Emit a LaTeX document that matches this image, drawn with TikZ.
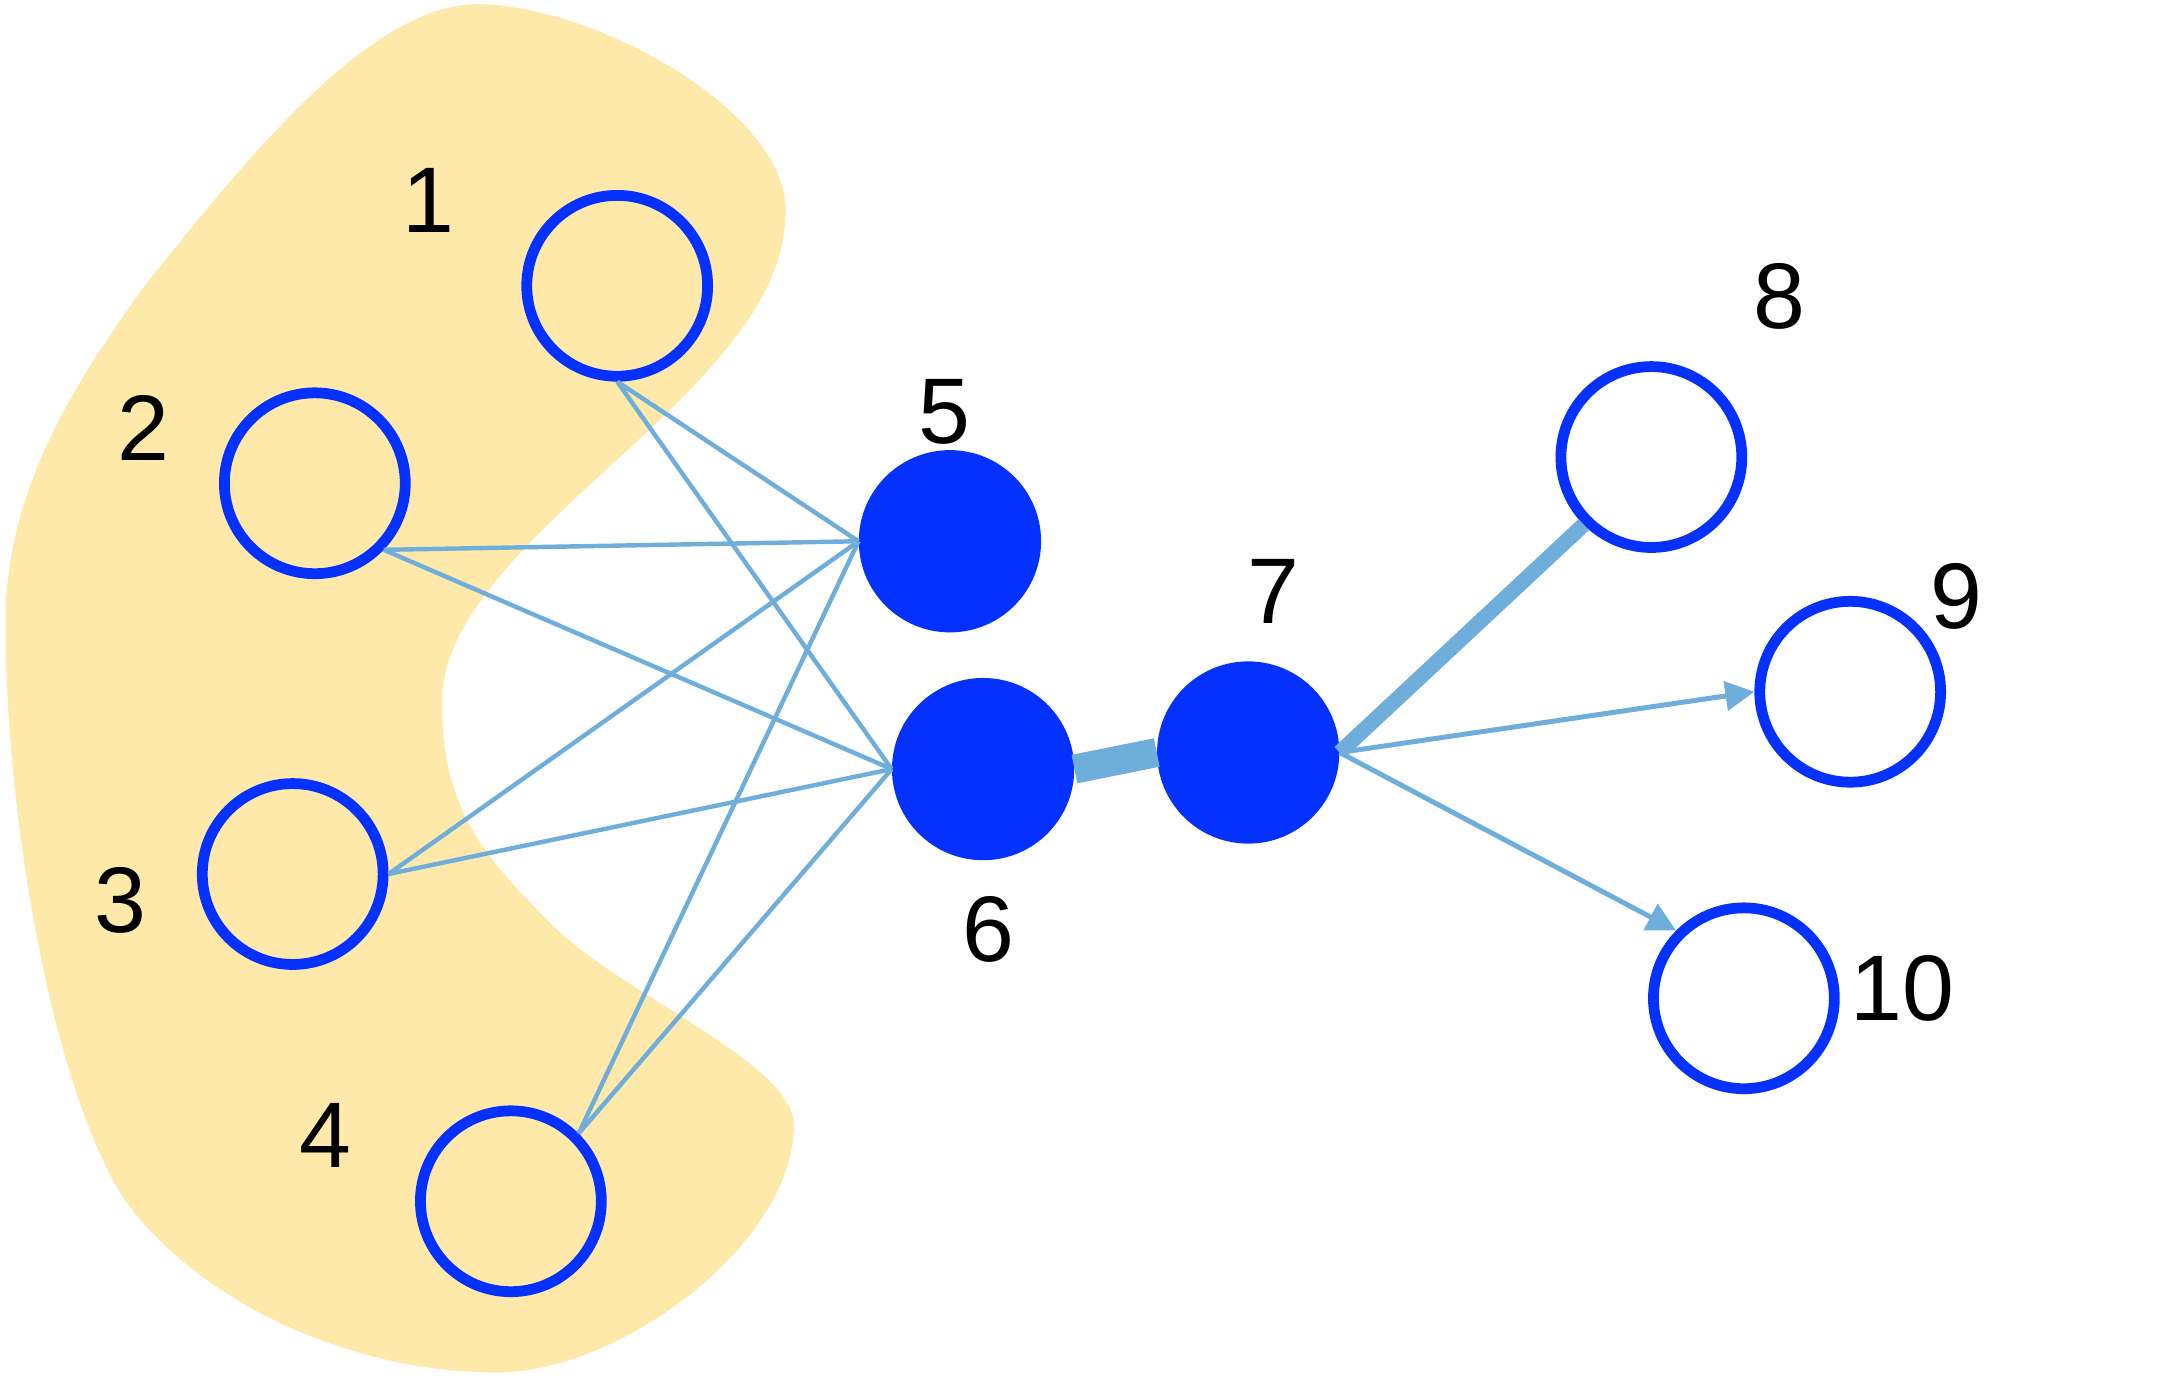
\documentclass[tikz,border=0pt]{standalone}
\usepackage{fontspec}
\setmainfont{Liberation Sans}
\usetikzlibrary{arrows.meta}
\definecolor{nodeblue}{HTML}{0531FF}
\definecolor{edgeblue}{HTML}{6FAEDB}
\definecolor{blobyellow}{HTML}{FEE9AA}
\begin{document}
\begin{tikzpicture}[x=1pt,y=-1pt,
  opennode/.style={circle,draw=nodeblue,line width=7.8pt,minimum size=131pt,inner sep=0pt},
  fullnode/.style={circle,fill=nodeblue,minimum size=132pt,inner sep=0pt},
  lbl/.style={font=\fontsize{67.5}{67.5}\selectfont,inner sep=0pt},
  thinedge/.style={draw=edgeblue,line width=3.2pt},
  arrowedge/.style={draw=edgeblue,line width=3.6pt,-{Triangle[length=21pt,width=21pt]}}
]
\useasboundingbox (0,0) rectangle (1568,996);
% blob
\fill[blobyellow] (104,208) .. controls (190,100) and (270,5) .. (345,3)
  .. controls (430,3) and (569,80) .. (569,152)
  .. controls (569,200) and (540,240) .. (500,282)
  .. controls (430,355) and (320,430) .. (320,508)
  .. controls (320,586) and (350,620) .. (400,670)
  .. controls (450,720) and (575,770) .. (575,815)
  .. controls (575,900) and (450,994) .. (360,994)
  .. controls (250,994) and (140,940) .. (89,867)
  .. controls (40,790) and (4,600) .. (4,450)
  .. controls (4,350) and (60,270) .. (104,208) -- cycle;
% nodes
\node[opennode] (n1) at (447,207) {};
\node[opennode] (n2) at (228,350) {};
\node[opennode] (n3) at (212,633) {};
\node[opennode] (n4) at (370,870) {};
\node[fullnode] (n5) at (688,392) {};
\node[fullnode] (n6) at (712,557) {};
\node[fullnode] (n7) at (904,545) {};
\node[opennode] (n8) at (1196,331) {};
\node[opennode] (n9) at (1340,501) {};
\node[opennode] (n10) at (1263,723) {};
% labels
\node[lbl] (l1) at (310,145) {1};
\node[lbl] (l2) at (104,310) {2};
\node[lbl] (l3) at (87,652) {3};
\node[lbl] (l4) at (236,822) {4};
\node[lbl] (l5) at (684,298) {5};
\node[lbl] (l6) at (716,673) {6};
\node[lbl] (l7) at (922,428) {7};
\node[lbl] (l8) at (1289,215) {8};
\node[lbl] (l9) at (1417,432) {9};
\node[lbl] (l10) at (1378,716) {10};
% edges
\draw[thinedge] (n1.south) -- (n5.west);
\draw[thinedge] (n1.south) -- (n6.west);
\draw[thinedge] (n2.-44) -- (n5.west);
\draw[thinedge] (n2.-44) -- (n6.west);
\draw[thinedge] (n3.east) -- (n5.west);
\draw[thinedge] (n3.east) -- (n6.west);
\draw[thinedge] (n4.45) -- (n5.west);
\draw[thinedge] (n4.45) -- (n6.west);
\draw[draw=edgeblue,line width=21pt] (n6.east) -- (n7.west);
\draw[draw=edgeblue,line width=11pt] (n7.east) -- (n8.225);
\draw[arrowedge] (n7.east) -- (n9.west);
\draw[arrowedge] (n7.east) -- (n10.135);
\end{tikzpicture}
\end{document}
